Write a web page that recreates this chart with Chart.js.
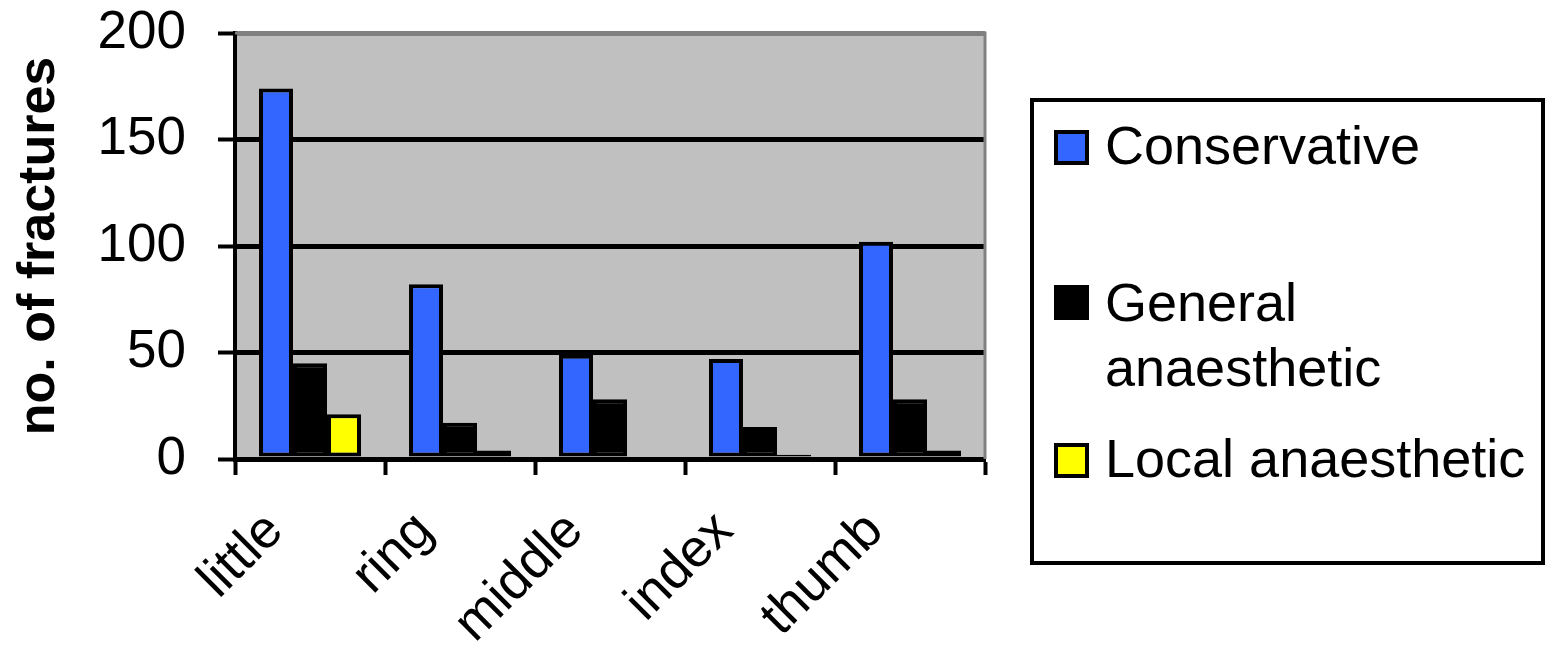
<!DOCTYPE html>
<html>
<head>
<meta charset="utf-8">
<script src="https://cdn.jsdelivr.net/npm/chart.js@4"></script>
<style>
  html, body { margin: 0; padding: 0; background: #fff; }
  #wrap { position: relative; width: 1548px; height: 656px; font-family: "Liberation Sans", Arial, sans-serif; }
  canvas { position: absolute; left: 0; top: 0; }
  #legend { position: absolute; left: 1030px; top: 98px; width: 507px; height: 459px; border: 4px solid #000; background: #fff; }
  .swatch { position: absolute; left: 20px; width: 27px; height: 27px; border: 4px solid #000; }
  .label { position: absolute; left: 71px; font-size: 54px; color: #000; white-space: nowrap; }
</style>
</head>
<body>
<div id="wrap">
  <canvas id="c" width="1548" height="656"></canvas>
  <div id="legend"></div>
</div>
<script>
// Fingers and fracture counts by treatment
const fingers = ['little', 'ring', 'middle', 'index', 'thumb'];
const conservative = [174, 82, 49, 47, 102];
const generalAnaesthetic = [45, 17, 28, 15, 28];
const localAnaesthetic = [21, 4, 0, 2, 4];
const yTicks = [0, 50, 100, 150, 200];

const seriesNames = ['Conservative', 'General anaesthetic', 'Local anaesthetic'];
const seriesColors = ['#3366ff', '#000000', '#ffff00'];

const FONT = '"Liberation Sans", Arial, sans-serif';

// grey plot area with grey top/right frame
const plotBackground = {
  id: 'plotBackground',
  beforeDraw(chart) {
    const { ctx, chartArea: a } = chart;
    ctx.save();
    ctx.fillStyle = '#c0c0c0';
    ctx.fillRect(a.left, a.top, a.right - a.left, a.bottom - a.top);
    ctx.restore();
  },
  afterDatasetsDraw(chart) {
    const { ctx, chartArea: a } = chart;
    ctx.save();
    ctx.strokeStyle = '#808080';
    ctx.lineWidth = 3;
    ctx.beginPath();
    ctx.moveTo(a.left, a.top);
    ctx.lineTo(a.right, a.top);
    ctx.lineTo(a.right, a.bottom);
    ctx.stroke();
    ctx.restore();
  }
};

new Chart(document.getElementById('c'), {
  type: 'bar',
  data: {
    labels: fingers,
    datasets: [
      { label: seriesNames[0], data: conservative, backgroundColor: seriesColors[0] },
      { label: seriesNames[1], data: generalAnaesthetic, backgroundColor: seriesColors[1] },
      { label: seriesNames[2], data: localAnaesthetic, backgroundColor: seriesColors[2] }
    ].map(d => Object.assign(d, { borderColor: '#000', borderWidth: 4, borderSkipped: false }))
  },
  options: {
    responsive: false,
    devicePixelRatio: 1,
    animation: false,
    layout: { padding: { left: 0, top: 33, right: 563, bottom: 0 } },
    datasets: { bar: { categoryPercentage: 0.68, barPercentage: 1.0 } },
    plugins: { legend: { display: false }, tooltip: { enabled: false } },
    scales: {
      x: {
        grid: { offset: true, drawOnChartArea: false, drawTicks: true, tickLength: 16, tickWidth: 4, tickColor: '#000' },
        border: { color: '#000', width: 5 },
        ticks: {
          color: '#000', font: { family: FONT, size: 53 },
          minRotation: 45, maxRotation: 45, autoSkip: false,
          labelOffset: -35, padding: 25
        },
        afterFit(s) { s.height = 197; s.paddingLeft = 0; s.paddingRight = 0; s.paddingTop = 0; s.paddingBottom = 0; }
      },
      y: {
        min: 0, max: 200,
        afterBuildTicks(s) { s.ticks = yTicks.map(v => ({ value: v })); },
        grid: {
          color: ctx => (ctx.tick && ctx.tick.value === 200 ? '#808080' : '#000'),
          lineWidth: 5, tickLength: 17, tickWidth: 4, tickColor: '#000'
        },
        border: { color: '#000', width: 4 },
        ticks: { color: '#000', font: { family: FONT, size: 53 }, padding: 32 },
        title: {
          display: true, text: 'no. of fractures', color: '#000',
          font: { family: FONT, size: 52, weight: 'bold' }, padding: { top: 8, bottom: 0 }
        },
        afterFit(s) { s.width = 235; s.paddingTop = 0; s.paddingBottom = 0; s.paddingLeft = 0; s.paddingRight = 0; }
      }
    }
  },
  plugins: [plotBackground]
});

// legend box entries
const legendItems = [
  { color: seriesColors[0], swatchTop: 28, textTop: 11, lines: ['Conservative'] },
  { color: seriesColors[1], swatchTop: 183, textTop: 168, lines: ['General', 'anaesthetic'] },
  { color: seriesColors[2], swatchTop: 341, textTop: 324, lines: ['Local anaesthetic'] }
];
const legendEl = document.getElementById('legend');
legendItems.forEach(it => {
  const sw = document.createElement('div');
  sw.className = 'swatch';
  sw.style.top = it.swatchTop + 'px';
  sw.style.background = it.color;
  legendEl.appendChild(sw);
  const lb = document.createElement('div');
  lb.className = 'label';
  lb.style.top = it.textTop + 'px';
  lb.style.lineHeight = '65px';
  lb.innerHTML = it.lines.join('<br>');
  legendEl.appendChild(lb);
});
</script>
</body>
</html>
